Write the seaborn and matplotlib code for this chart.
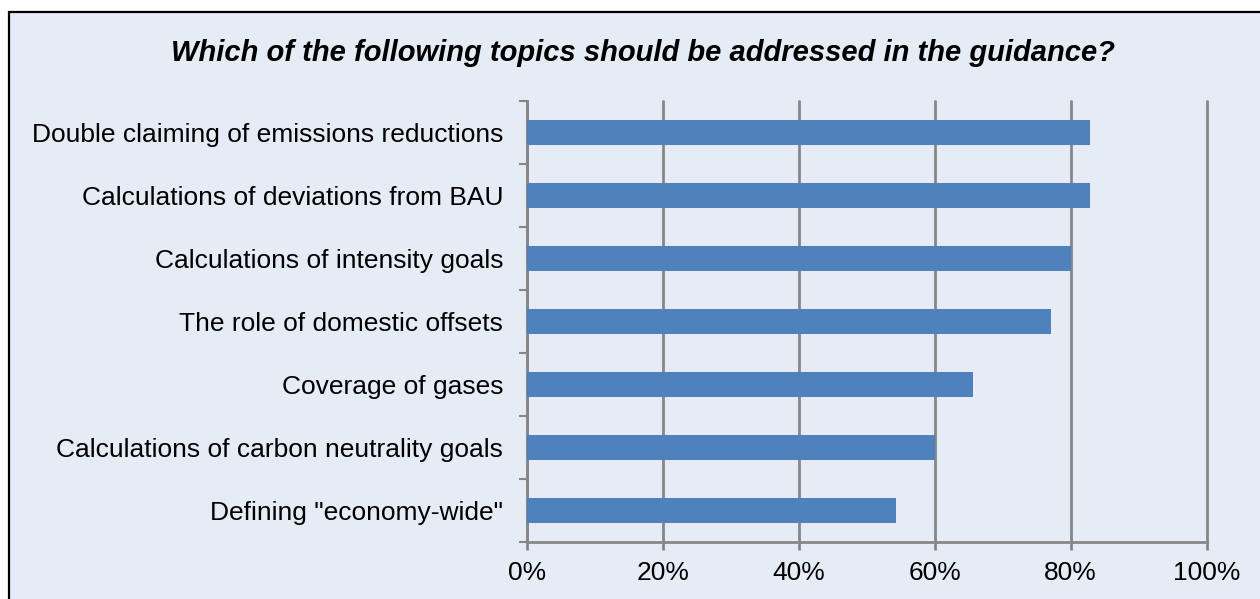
import matplotlib
matplotlib.use("Agg")
import matplotlib.pyplot as plt
import matplotlib.patches as mpatches
from matplotlib.ticker import FixedLocator, PercentFormatter
import pandas as pd
import seaborn as sns

title = "Which of the following topics should be addressed in the guidance?"
topics = [
    "Double claiming of emissions reductions",
    "Calculations of deviations from BAU",
    "Calculations of intensity goals",
    "The role of domestic offsets",
    "Coverage of gases",
    "Calculations of carbon neutrality goals",
    'Defining "economy-wide"',
]
shares = [82.9, 82.9, 80.0, 77.1, 65.7, 60.0, 54.3]
x_ticks = [0, 20, 40, 60, 80, 100]

bg = "#E6ECF6"
bar_color = "#4F81BD"
grid_color = "#868686"

sns.set_theme(style="white")
plt.rcParams["font.family"] = ["Liberation Sans", "DejaVu Sans"]

fig = plt.figure(figsize=(12.6, 5.99), dpi=100, facecolor="white")

# framed panel behind the chart
W, H = 1260, 599
panel = mpatches.Rectangle(
    (9 / W, -0.01), 1.02 - 9 / W, 1.01 - 12 / H,
    transform=fig.transFigure, facecolor=bg, edgecolor="black",
    linewidth=1.6, zorder=-10)
fig.patches.append(panel)

ax = fig.add_axes([526.7 / W, 1 - 542 / H, (1206.7 - 526.7) / W, (542 - 101) / H])
ax.set_zorder(5)
ax.set_facecolor("none")

df = pd.DataFrame({"topic": topics, "share": shares})
sns.barplot(data=df, x="share", y="topic", orient="h", color=bar_color,
            saturation=1, width=0.4, linewidth=0, ax=ax, zorder=3)

ax.set_xlim(0, 100)
ax.set_ylim(len(topics) - 0.5, -0.5)
ax.set_xticks(x_ticks)
ax.xaxis.set_major_formatter(PercentFormatter(decimals=0))
ax.grid(axis="x", color=grid_color, linewidth=2, zorder=1)
ax.grid(axis="y", visible=False)
ax.set_axisbelow(True)
for gl in ax.get_xgridlines():
    gl.set_clip_on(False)

for side in ("top", "right"):
    ax.spines[side].set_visible(False)
for side in ("left", "bottom"):
    ax.spines[side].set_color(grid_color)
    ax.spines[side].set_linewidth(2)

ax.yaxis.set_minor_locator(FixedLocator([i - 0.5 for i in range(len(topics) + 1)]))
ax.tick_params(axis="y", which="major", length=0, pad=17, labelsize=19, labelcolor="black")
ax.tick_params(axis="y", which="minor", left=True, length=6, width=1.5, color=grid_color)
ax.tick_params(axis="x", which="major", bottom=True, length=6, width=2,
               color=grid_color, pad=8, labelsize=19, labelcolor="black")

ax.set_xlabel("")
ax.set_ylabel("")

fig.text(0.51, 1 - 53 / H, title, ha="center", va="center",
         fontsize=21, fontweight="bold", fontstyle="italic", color="black", zorder=6)

fig.savefig("out.png", dpi=100, facecolor="white")
